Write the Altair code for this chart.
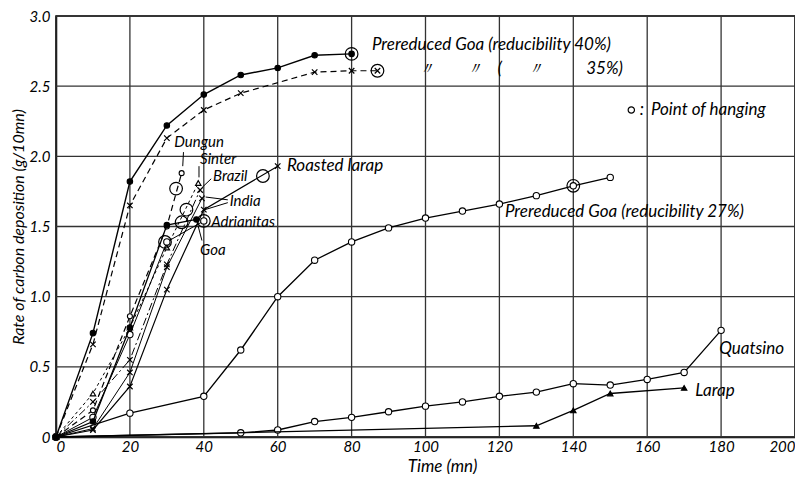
import altair as alt
import pandas as pd

FONT = "Lato"

# ---- data ----
goa40_t = [0, 10, 20, 30, 40, 50, 60, 70, 80]
goa40_v = [0, 0.74, 1.82, 2.22, 2.44, 2.58, 2.63, 2.72, 2.73]

goa35_t = [0, 10, 20, 30, 40, 50, 70, 80, 87]
goa35_v = [0, 0.66, 1.65, 2.13, 2.33, 2.45, 2.60, 2.61, 2.61]

goa27_t = [0, 20, 40, 50, 60, 70, 80, 90, 100, 110, 120, 130, 140, 150]
goa27_v = [0, 0.17, 0.29, 0.62, 1.00, 1.26, 1.39, 1.49, 1.56, 1.61, 1.66, 1.72, 1.79, 1.85]

quatsino_t = [0, 50, 60, 70, 80, 90, 100, 110, 120, 130, 140, 150, 160, 170, 180]
quatsino_v = [0, 0.03, 0.05, 0.11, 0.14, 0.18, 0.22, 0.25, 0.29, 0.32, 0.38, 0.37, 0.41, 0.46, 0.76]

larap_t = [0, 130, 140, 150, 170]
larap_v = [0, 0.08, 0.19, 0.31, 0.35]

roasted_t = [0, 10, 20, 30, 40, 60]
roasted_v = [0, 0.05, 0.36, 1.05, 1.62, 1.93]

dungun_t = [0, 10, 20, 30, 34]
dungun_v = [0, 0.19, 0.86, 1.50, 1.88]

sinter_t = [0, 10, 20, 30, 38.5]
sinter_v = [0, 0.31, 0.78, 1.35, 1.81]

brazil_t = [0, 10, 20, 30, 39]
brazil_v = [0, 0.25, 0.55, 1.23, 1.76]

india_t = [0, 10, 20, 30, 39.5]
india_v = [0, 0.06, 0.46, 1.21, 1.70]

adrianitas_t = [0, 10, 20, 30, 40]
adrianitas_v = [0, 0.14, 0.73, 1.39, 1.54]

goa_t = [0, 10, 20, 30, 38]
goa_v = [0, 0.11, 0.78, 1.51, 1.55]

# points of hanging
hang_t = [80, 87, 140, 40, 32.5, 56, 35.3, 34, 29.5]
hang_v = [2.73, 2.61, 1.79, 1.54, 1.77, 1.86, 1.62, 1.53, 1.39]

# main annotation texts
ann_text = ["Prereduced Goa (reducibility 40%)", "\u3003", "\u3003", "(", "\u3003", "35%)",
            "Point of hanging", ":", "Prereduced Goa (reducibility 27%)", "Quatsino", "Larap",
            "Roasted larap"]
ann_x = [85.5, 98, 111, 119.5, 127.5, 143.5,
         161, 158, 121.5, 179.5, 173, 62.5]
ann_y = [2.79, 2.62, 2.62, 2.62, 2.62, 2.62,
         2.33, 2.33, 1.60, 0.63, 0.33, 1.93]

# ore labels in the crowded cluster
ore_text = ["Dungun", "Sinter", "Brazil", "India", "Adrianitas", "Goa"]
ore_x = [32, 39, 42.5, 47, 42, 39]
ore_y = [2.10, 1.98, 1.86, 1.68, 1.53, 1.33]

# leader lines from labels to curves
lead_x = [34.5, 38.7, 42.0, 46.5, 46.5, 39.5]
lead_y = [2.03, 1.93, 1.84, 1.69, 1.67, 1.40]
lead_x2 = [34.3, 38.7, 39.6, 40.5, 40.3, 38.3]
lead_y2 = [1.93, 1.85, 1.78, 1.71, 1.62, 1.52]

X_TICKS = list(range(0, 201, 20))
Y_TICKS = [0, 0.5, 1.0, 1.5, 2.0, 2.5, 3.0]
X_MIN, X_MAX = 0, 200
Y_MIN, Y_MAX = 0, 3

XSHAPE = "M-1,-1L1,1M-1,1L1,-1"

series = [
    dict(t=goa40_t, v=goa40_v, dash=None, shape="circle", fill="black", size=30, sw=1.4),
    dict(t=goa35_t, v=goa35_v, dash=[6, 4], shape=XSHAPE, fill=None, size=30, sw=1.2),
    dict(t=goa27_t, v=goa27_v, dash=None, shape="circle", fill="white", size=40, sw=1.3),
    dict(t=quatsino_t, v=quatsino_v, dash=None, shape="circle", fill="white", size=40, sw=1.3),
    dict(t=larap_t, v=larap_v, dash=None, shape="triangle-up", fill="black", size=30, sw=1.3),
    dict(t=roasted_t, v=roasted_v, dash=None, shape=XSHAPE, fill=None, size=30, sw=1.2),
    dict(t=dungun_t, v=dungun_v, dash=[6, 4], shape="circle", fill="white", size=25, sw=1.2),
    dict(t=sinter_t, v=sinter_v, dash=[3, 3], shape="triangle-up", fill="white", size=30, sw=1.0),
    dict(t=brazil_t, v=brazil_v, dash=[8, 3, 2, 3], shape=XSHAPE, fill=None, size=30, sw=1.0),
    dict(t=india_t, v=india_v, dash=None, shape=XSHAPE, fill=None, size=30, sw=1.0),
    dict(t=adrianitas_t, v=adrianitas_v, dash=None, shape="circle", fill="white", size=40, sw=1.0),
    dict(t=goa_t, v=goa_v, dash=None, shape="circle", fill="black", size=30, sw=1.3),
]

W, H = 739, 421

xs = alt.Scale(domain=[X_MIN, X_MAX], nice=False)
ys = alt.Scale(domain=[Y_MIN, Y_MAX], nice=False)

X = alt.X("t:Q", scale=xs, axis=alt.Axis(
    values=X_TICKS, title="Time        (mn)", titleX=386, titleY=38,
    titleBaseline="bottom", grid=False, labelPadding=2))
Y = alt.Y("v:Q", scale=ys, axis=alt.Axis(
    values=Y_TICKS, title="Rate of carbon deposition (g/10mn)", grid=False,
    labelExpr="datum.value == 0 ? '0' : format(datum.value, '.1f')"))

layers = []

# grid lines
vgrid = pd.DataFrame({"t": X_TICKS})
hgrid = pd.DataFrame({"v": Y_TICKS})
layers.append(alt.Chart(vgrid).mark_rule(color="#333333", strokeWidth=1.3).encode(x=X))
layers.append(alt.Chart(hgrid).mark_rule(color="#333333", strokeWidth=1.3).encode(y=Y))

for s in series:
    df = pd.DataFrame({"t": s["t"], "v": s["v"]})
    base = alt.Chart(df)
    lkw = dict(color="black", strokeWidth=s["sw"])
    if s["dash"]:
        lkw["strokeDash"] = s["dash"]
    layers.append(base.mark_line(**lkw).encode(x=X, y=Y))
    if s["fill"] is None:
        pt = base.mark_point(shape=s["shape"], filled=False, stroke="black",
                             strokeWidth=1.2, size=s["size"], opacity=1)
    else:
        pt = base.mark_point(shape=s["shape"], filled=True, fill=s["fill"], stroke="black",
                             strokeWidth=1.1, size=s["size"], opacity=1)
    layers.append(pt.encode(x=X, y=Y))

hang_df = pd.DataFrame({"t": hang_t, "v": hang_v})
layers.append(alt.Chart(hang_df).mark_point(shape="circle", filled=False, stroke="black",
                                            strokeWidth=1.2, size=160, opacity=1).encode(x=X, y=Y))

# legend symbol for "Point of hanging"
sym_df = pd.DataFrame({"t": [155.7], "v": [2.33]})
layers.append(alt.Chart(sym_df).mark_point(shape="circle", filled=False, stroke="black",
                                           strokeWidth=1.2, size=40, opacity=1).encode(x=X, y=Y))

lead_df = pd.DataFrame({"t": lead_x, "v": lead_y, "t2": lead_x2, "v2": lead_y2})
layers.append(alt.Chart(lead_df).mark_rule(color="black", strokeWidth=1).encode(
    x=X, y=Y, x2="t2:Q", y2="v2:Q"))

ann_df = pd.DataFrame({"t": ann_x, "v": ann_y, "label": ann_text})
layers.append(alt.Chart(ann_df).mark_text(
    align="left", baseline="middle", font=FONT, fontStyle="italic", fontSize=17,
    color="black").encode(x=X, y=Y, text="label:N"))

ore_df = pd.DataFrame({"t": ore_x, "v": ore_y, "label": ore_text})
layers.append(alt.Chart(ore_df).mark_text(
    align="left", baseline="middle", font=FONT, fontStyle="italic", fontSize=15,
    color="black").encode(x=X, y=Y, text="label:N"))

chart = alt.layer(*layers).properties(
    width=W, height=H,
    autosize=alt.AutoSizeParams(type="none"),
    padding={"left": 48, "top": 8, "right": 0, "bottom": 37},
    background="white",
).configure_view(stroke="black", strokeWidth=1.5).configure_axis(
    domain=True, domainColor="black", domainWidth=1.5,
    ticks=False, labelFont=FONT, labelFontStyle="italic", labelFontSize=15,
    labelColor="black",
    titleFont=FONT, titleFontStyle="italic", titleFontWeight="normal", titleFontSize=16,
    titleColor="black",
).configure_axisY(titlePadding=3, labelPadding=6).configure_axisX(titleFontSize=17)

chart.save("out.html", embed_options={"renderer": "svg", "actions": False})
